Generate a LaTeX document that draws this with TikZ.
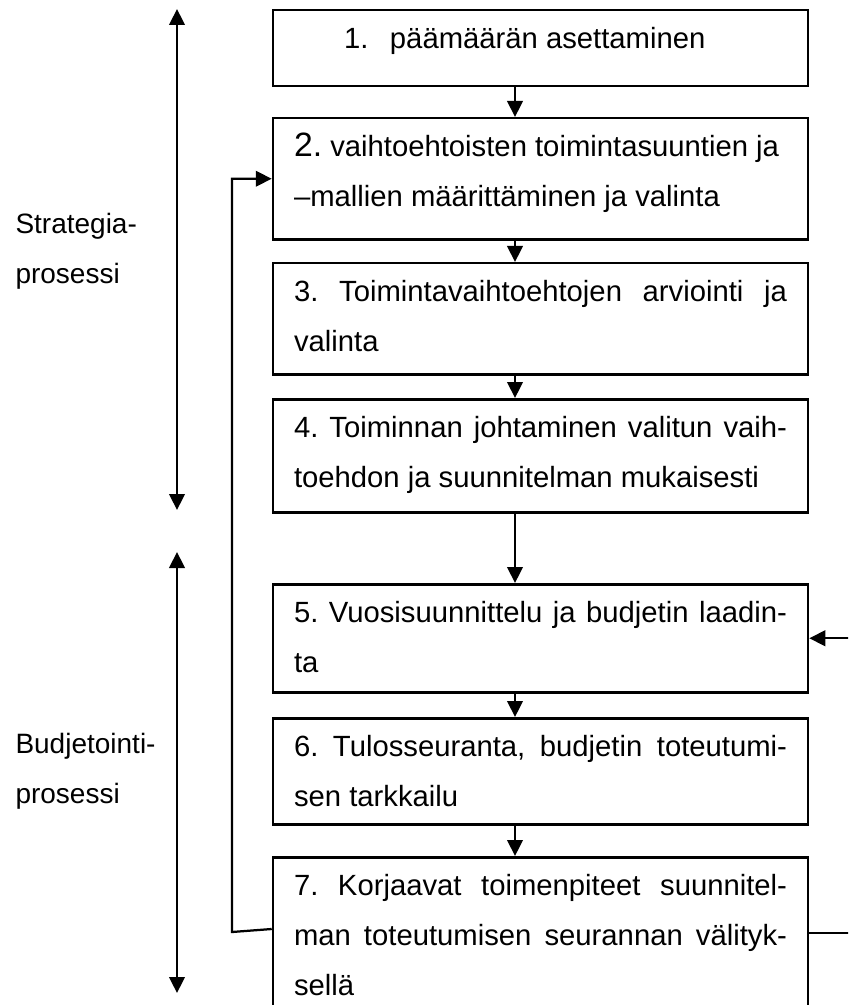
\documentclass[tikz,border=0pt]{standalone}
\usepackage{fontspec}
\setmainfont{Liberation Sans}
\usetikzlibrary{calc}
\usetikzlibrary{arrows.meta}
\tikzset{
  stepbox/.style= {draw, line width=1pt, anchor=north, inner xsep=8.4pt, inner ysep=0pt, minimum width=214pt, font=\fontsize{11.7}{20}\selectfont},
  sidetext/.style= {anchor=north west, inner sep=0pt, text width=120pt, align=left, font=\fontsize{11.2}{20}\selectfont},
  flow/.style= {line width=0.9pt, -{Triangle[length=6.4pt, width=6.2pt]}},
  phasearrow/.style= {line width=0.9pt, {Triangle[length=6.4pt, width=6.2pt]}-{Triangle[length=6.4pt, width=6.2pt]}},
}
\newcommand{\steptext}[2]{\parbox[t][#1][t]{197.2pt}{\frenchspacing\rule{0pt}{15.4pt}#2}}
\newcommand{\fullline}[1]{\makebox[\linewidth][s]{#1}}
\newcommand{\natline}[1]{\makebox[\linewidth][l]{#1}}

\begin{document}
\begin{tikzpicture}[x=0.4pt, y=-0.4pt]
  \useasboundingbox (0,0) rectangle (848,1005);
  \clip (0,0) rectangle (848,1005);

  \node [stepbox] (b1) at (540.5,9) {\steptext{30.4pt}{\hspace*{20pt}\makebox[18.4pt][l]{1.}päämäärän asettaminen}};
  \node [stepbox] (b2) at (540.5,117) {\steptext{48.4pt}{\natline{{\fontsize{13.5}{20}\selectfont 2.} vaihtoehtoisten toimintasuuntien ja}\\–mallien määrittäminen ja valinta}};
  \node [stepbox] (b3) at (540.5,262) {\steptext{44.4pt}{\fullline{3. Toimintavaihtoehtojen arviointi ja}\\valinta}};
  \node [stepbox] (b4) at (540.5,398) {\steptext{45.2pt}{\fullline{4. Toiminnan johtaminen valitun vaih-}\\toehdon ja suunnitelman mukaisesti}};
  \node [stepbox] (b5) at (540.5,583) {\steptext{43.2pt}{\fullline{5. Vuosisuunnittelu ja budjetin laadin-}\\ta}};
  \node [stepbox] (b6) at (540.5,717) {\steptext{42.4pt}{\fullline{6. Tulosseuranta, budjetin toteutumi-}\\sen tarkkailu}};
  \node [stepbox] (b7) at (540.5,856) {\steptext{68pt}{\fullline{7. Korjaavat toimenpiteet suunnitel-}\\\fullline{man toteutumisen seurannan välityk-}\\sellä}};

  % main flow
  \coordinate (ax) at (515,0);
  \draw [flow] (b1.south -| ax) -- (b2.north -| ax);
  \draw [flow] (b2.south -| ax) -- (b3.north -| ax);
  \draw [flow] (b3.south -| ax) -- (b4.north -| ax);
  \draw [flow] (b4.south -| ax) -- (b5.north -| ax);
  \draw [flow] (b5.south -| ax) -- (b6.north -| ax);
  \draw [flow] (b6.south -| ax) -- (b7.north -| ax);

  % phases
  \coordinate (s1) at (177,9);
  \coordinate (s2) at (177,510);
  \coordinate (p1) at (177,552);
  \coordinate (p2) at (177,993);
  \draw [phasearrow] (s1) -- (s2);
  \draw [phasearrow] (p1) -- (p2);
  \node [sidetext] (strat) at (15,194.5) {\rule{0pt}{15.4pt}Strategia-\\prosessi};
  \node [sidetext] (budj) at (15,714.5) {\rule{0pt}{15.4pt}Budjetointi-\\prosessi};

  % feedback loops
  \coordinate (fl) at (232,932);
  \coordinate (fr) at (880,933);
  \draw [flow] ($(b7.north west)+(0,73)$) -- (fl) |- (b2.west);
  \draw [flow] ($(b7.north east)+(0,77)$) -- (fr) |- (b5.east);
\end{tikzpicture}
\end{document}
